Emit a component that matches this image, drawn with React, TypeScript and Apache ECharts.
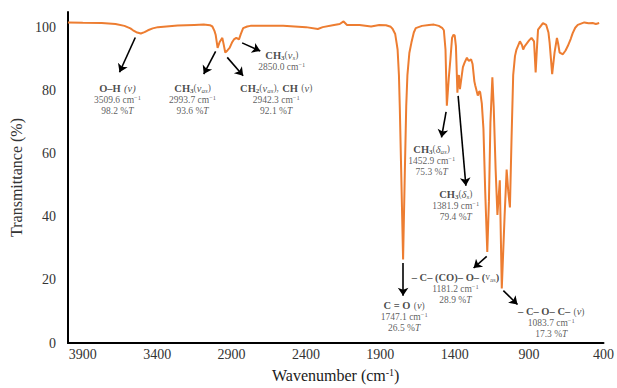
import React, { useEffect, useRef } from "react";
import * as echarts from "echarts";

// Spectrum (wavenumber in cm-1, transmittance in %)
const wavenumbers = [
  4000, 3900, 3773, 3680, 3620, 3580, 3562, 3540, 3509.6, 3485, 3462, 3430, 3395, 3262, 3150, 3087, 3045, 3029, 3015, 3007,
  2993.7, 2980, 2962, 2952, 2942.3, 2928, 2913, 2895, 2884, 2868, 2850, 2838, 2822, 2795, 2773, 2553, 2400, 2320, 2287, 2220,
  2173, 2147, 2124, 2040, 1962, 1907, 1862, 1830, 1818, 1800, 1791, 1784, 1775, 1769, 1760, 1747.1, 1735, 1726, 1718, 1705,
  1691, 1675, 1662, 1620, 1573, 1540, 1507, 1485, 1473, 1462, 1452.9, 1440, 1429, 1418, 1408, 1400, 1392, 1381.9, 1376, 1372,
  1365, 1355, 1345, 1333, 1318, 1310, 1302, 1290, 1280, 1268, 1262, 1245, 1235, 1229, 1218, 1207, 1195, 1181.2, 1170, 1160,
  1147, 1138, 1125, 1113, 1097, 1083.7, 1065, 1051, 1040, 1029, 1018, 1007, 995, 985, 962, 948, 940, 929, 900, 884,
  867, 856, 848, 840, 807, 785, 770, 762, 745, 729, 713, 705, 695, 673, 655, 640, 620, 607, 590, 573,
  529, 500, 473, 451, 429,
];
const transmittance = [
  101.7, 101.6, 101.5, 101.2, 100.6, 99.8, 99.2, 98.6, 98.2, 98.6, 99.2, 99.8, 100.2, 100.7, 100.9, 101.0, 100.8, 100.4, 99.0, 97.8,
  93.6, 95.5, 96.8, 94.5, 92.1, 92.8, 93.6, 95.5, 96.3, 96.8, 96.3, 98.0, 99.9, 100.4, 100.6, 100.6, 100.2, 99.6, 100.2, 100.8,
  101.2, 102.0, 100.9, 100.9, 100.4, 100.9, 100.8, 100.3, 99.7, 98.0, 95.3, 93.1, 85, 74.4, 55, 26.5, 55, 75, 85, 92,
  95.3, 98.5, 99.9, 100.6, 100.9, 101.0, 100.6, 100.0, 99.2, 93.1, 75.3, 84, 90, 96.8, 97.8, 97.5, 94.2, 79.4, 84.0, 85.0,
  80.5, 84, 87.5, 89.0, 90.5, 89.8, 89.5, 90.0, 88.5, 83, 81.7, 78.5, 79.8, 79.6, 76, 68, 48, 28.9, 45, 70,
  84.3, 75, 55, 40.6, 51.6, 17.3, 40, 55.0, 48, 43.0, 65, 85, 91, 93.1, 95.7, 94.5, 93.1, 94.2, 96.0, 96.8,
  95.7, 85.8, 93, 99.4, 101.5, 100.9, 98.5, 95.2, 85.3, 92.1, 96.8, 95, 92.1, 91.6, 92.8, 94.2, 96.5, 98.3, 100, 100.9,
  101.7, 101.4, 101.5, 101.2, 101.5,
];

const xMin = 400;
const xMax = 4000;
const xStep = 500;
const yMin = 0;
const yMax = 105;
const yStep = 20;

// Annotations: arrow start / end (data units), label anchor (data units), text
const arrowStarts = [
  [3547, 96.9], [3007, 92.5], [2929, 90.6], [2829, 95.2], [1458, 73.3], [1377, 78.4], [1747, 25.4], [1185, 27.5], [1073, 16.6],
];
const arrowEnds = [
  [3653, 85.9], [3087, 85.3], [2822, 84.8], [2707, 92.6], [1489, 65.2], [1325, 49.9], [1747, 15], [1273, 23.8], [978, 12.2],
];
const labelAnchors = [
  [3667, 77.3], [3162, 77.3], [2600, 77.3], [2562, 89.5], [1555, 58.0], [1393, 43.7], [1740, 8.4], [1395, 17.4], [751, 6.4],
];
const labelTexts = [
  "{b|O–H} {i|(ν)}\n{n|3509.6 cm}{sup|−1}\n{n|98.2 %}{ni|T}",
  "{b|CH}{bs|3}{n|(}{i|ν}{is|as}{n|)}\n{n|2993.7 cm}{sup|−1}\n{n|93.6 %}{ni|T}",
  "{b|CH}{bs|2}{n|(}{i|ν}{is|as}{n|),} {b|CH} {n|(}{i|ν}{n|)}\n{n|2942.3 cm}{sup|−1}\n{n|92.1 %}{ni|T}",
  "{b|CH}{bs|3}{n|(}{i|ν}{is|s}{n|)}\n{n|2850.0 cm}{sup|−1}",
  "{b|CH}{bs|3}{n|(}{i|δ}{is|as}{n|)}\n{n|1452.9 cm}{sup|−1}\n{n|75.3 %}{ni|T}",
  "{b|CH}{bs|3}{n|(}{i|δ}{is|s}{n|)}\n{n|1381.9 cm}{sup|−1}\n{n|79.4 %}{ni|T}",
  "{b|C = O} {n|(}{i|ν}{n|)}\n{n|1747.1 cm}{sup|−1}\n{n|26.5 %}{ni|T}",
  "{b|– C– (CO)– O– (}{n|v}{ns|as}{b|)}\n{n|1181.2 cm}{sup|−1}\n{n|28.9 %}{ni|T}",
  "{b|– C– O– C–} {n|(}{i|ν}{n|)}\n{n|1083.7 cm}{sup|−1}\n{n|17.3 %}{ni|T}",
];

const FONT = "'Liberation Serif', 'DejaVu Serif', serif";
const LINE_COLOR = "#ED7D31";

export default function App() {
  const ref = useRef<HTMLDivElement>(null);
  useEffect(() => {
    if (!ref.current) return;
    const chart = echarts.init(ref.current, undefined, { renderer: "svg" });
    const dark = "#1a1a1a";
    const grey = "#333";
    const rich = {
      b: { fontFamily: FONT, fontWeight: "bold", fontSize: 10.5, color: dark, lineHeight: 12 },
      bs: { fontFamily: FONT, fontWeight: "bold", fontSize: 7, color: dark, lineHeight: 6, padding: [6, 0, 0, 0] },
      i: { fontFamily: FONT, fontStyle: "italic", fontSize: 10.5, color: dark, lineHeight: 12 },
      is: { fontFamily: FONT, fontStyle: "italic", fontSize: 7, color: dark, lineHeight: 6, padding: [6, 0, 0, 0] },
      n: { fontFamily: FONT, fontSize: 9.5, color: grey, lineHeight: 11 },
      ns: { fontFamily: FONT, fontSize: 7, color: grey, lineHeight: 6, padding: [6, 0, 0, 0] },
      ni: { fontFamily: FONT, fontStyle: "italic", fontSize: 9.5, color: grey, lineHeight: 11 },
      sup: { fontFamily: FONT, fontSize: 6.5, color: grey, lineHeight: 6, padding: [0, 0, 5, 0] },
    };
    chart.setOption({
      animation: false,
      grid: { left: 64, right: 11, top: 12, bottom: 40, containLabel: false },
      xAxis: {
        type: "value",
        inverse: true,
        min: xMin,
        max: xMax,
        interval: xStep,
        name: "{t|Wavenumber (cm}{s|-1}{t|)}",
        nameLocation: "middle",
        nameGap: 24,
        nameTextStyle: {
          rich: {
            t: { fontFamily: FONT, fontSize: 16, color: dark, lineHeight: 16 },
            s: { fontFamily: FONT, fontSize: 10, color: dark, lineHeight: 10, padding: [0, 0, 6, 0] },
          },
        },
        axisLine: { show: true, onZero: false, lineStyle: { color: "#000", width: 2 } },
        axisTick: { show: false },
        splitLine: { show: false },
        axisLabel: {
          margin: 4,
          fontFamily: FONT,
          fontSize: 14,
          color: grey,
          formatter: (v: number) => ((v - xMin) % xStep === 0 ? String(v) : ""),
        },
      },
      yAxis: {
        type: "value",
        min: yMin,
        max: yMax,
        interval: yStep,
        name: "Transmittance (%)",
        nameLocation: "middle",
        nameGap: 40,
        nameTextStyle: { fontFamily: FONT, fontSize: 16, color: grey },
        axisLine: { show: true, lineStyle: { color: "#000", width: 2 } },
        axisTick: { show: false },
        splitLine: { show: false },
        axisLabel: {
          margin: 12,
          fontFamily: FONT,
          fontSize: 14,
          color: grey,
          formatter: (v: number) => (v % yStep === 0 ? String(v) : ""),
        },
      },
      series: [
        {
          type: "line",
          data: wavenumbers.map((w, i) => [w, transmittance[i]]),
          showSymbol: false,
          symbol: "none",
          lineStyle: { color: LINE_COLOR, width: 2 },
          clip: false,
          z: 3,
        },
        {
          type: "lines",
          coordinateSystem: "cartesian2d",
          data: arrowStarts.map((s, i) => ({ coords: [s, arrowEnds[i]] })),
          symbol: ["none", "arrow"],
          symbolSize: 8,
          lineStyle: { color: "#000", width: 1.6, opacity: 1 },
          z: 4,
        },
        {
          type: "scatter",
          data: labelAnchors.map((p, i) => ({
            value: p,
            label: { formatter: labelTexts[i] },
          })),
          symbolSize: 1,
          itemStyle: { color: "rgba(0,0,0,0)" },
          label: {
            show: true,
            position: "inside",
            align: "center",
            verticalAlign: "middle",
            rich,
          },
          z: 5,
        },
      ],
    });
    return () => chart.dispose();
  }, []);
  return <div ref={ref} style={{ width: 617, height: 388, position: "absolute", left: 0, top: 0 }} />;
}
